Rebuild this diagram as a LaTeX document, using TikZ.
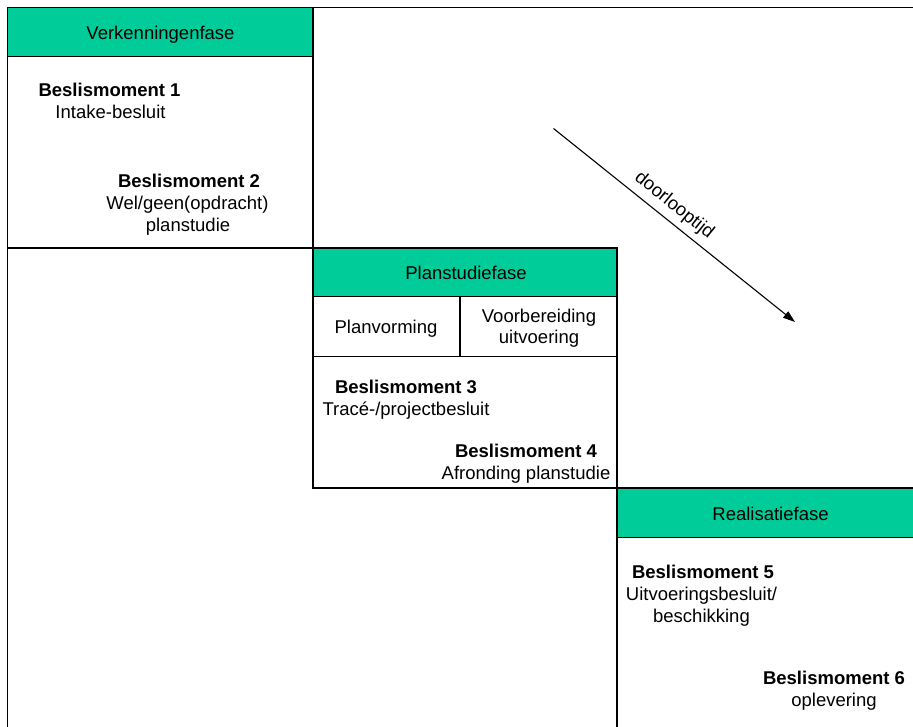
\documentclass[tikz,border=0pt]{standalone}
\usepackage{fontspec}
\setmainfont{Liberation Sans}
\usetikzlibrary{arrows.meta}
\definecolor{phasegreen}{RGB}{0,204,153}
\begin{document}
\begin{tikzpicture}[x=1pt,y=-1pt,
  boxline/.style={draw=black,line width=1.8pt},
  headbox/.style={fill=phasegreen,draw=black,line width=1.8pt},
  txt/.style={font=\fontsize{18.5}{22}\selectfont,inner sep=0pt,anchor=base},
  bold/.style={txt,font=\fontsize{18.5}{22}\selectfont\bfseries},
]
\useasboundingbox (0,0) rectangle (913,727);
\fill[white] (0,0) rectangle (913,727);
\begin{scope}
\clip (0,0) rectangle (913,727);
% outer frame
\draw[boxline] (7.5,740) -- (7.5,7.5) -- (930,7.5);
% phase 1
\draw[boxline] (7.5,56.5) rectangle (313.3,248.3);
\draw[headbox] (7.5,7.5) rectangle (313.3,56.5);
% phase 2
\draw[boxline] (313.3,296.5) rectangle (617,488.3);
\draw[boxline] (460,296.5) -- (460,356.5);
\draw[boxline] (313.3,356.5) -- (617,356.5);
\draw[headbox] (313.3,248.3) rectangle (617,296.5);
% phase 3
\draw[boxline] (617,537.5) rectangle (930,740);
\draw[headbox] (617,488.3) rectangle (930,537.5);
\end{scope}
% texts
\node[txt] (h1) at (160.5,40) {Verkenningenfase};
\node[bold] (b1a) at (109.5,96.5) {Beslismoment 1};
\node[txt] (b1b) at (110.5,118.5) {Intake-besluit};
\node[bold] (b2a) at (189,188) {Beslismoment 2};
\node[txt] (b2b) at (187.5,210) {Wel/geen(opdracht)};
\node[txt] (b2c) at (188,232) {planstudie};

\node[txt] (h2) at (466,279.5) {Planstudiefase};
\node[txt] (pv) at (386,334) {Planvorming};
\node[txt] (vu1) at (539,322.5) {Voorbereiding};
\node[txt] (vu2) at (539,344) {uitvoering};
\node[bold] (b3a) at (406,393) {Beslismoment 3};
\node[txt] (b3b) at (406,415) {Tracé-/projectbesluit};
\node[bold] (b4a) at (526,457) {Beslismoment 4};
\node[txt] (b4b) at (526,479) {Afronding planstudie};

\node[txt] (h3) at (770.5,520) {Realisatiefase};
\node[bold] (b5a) at (703,578) {Beslismoment 5};
\node[txt] (b5b) at (701.5,600) {Uitvoeringsbesluit/};
\node[txt] (b5c) at (701.5,622) {beschikking};
\node[bold] (b6a) at (834,684) {Beslismoment 6};
\node[txt] (b6b) at (834,706) {oplevering};

% arrow
\coordinate (as) at (553.5,128.5);
\coordinate (ae) at (795,322);
\draw[line width=1.1pt,-{Triangle[length=12pt,width=8pt]}] (as) -- (ae)
  node[pos=0.46,sloped,above=6pt,font=\fontsize{18.5}{22}\selectfont,inner sep=0pt] (dl) {doorlooptijd};
\end{tikzpicture}
\end{document}
